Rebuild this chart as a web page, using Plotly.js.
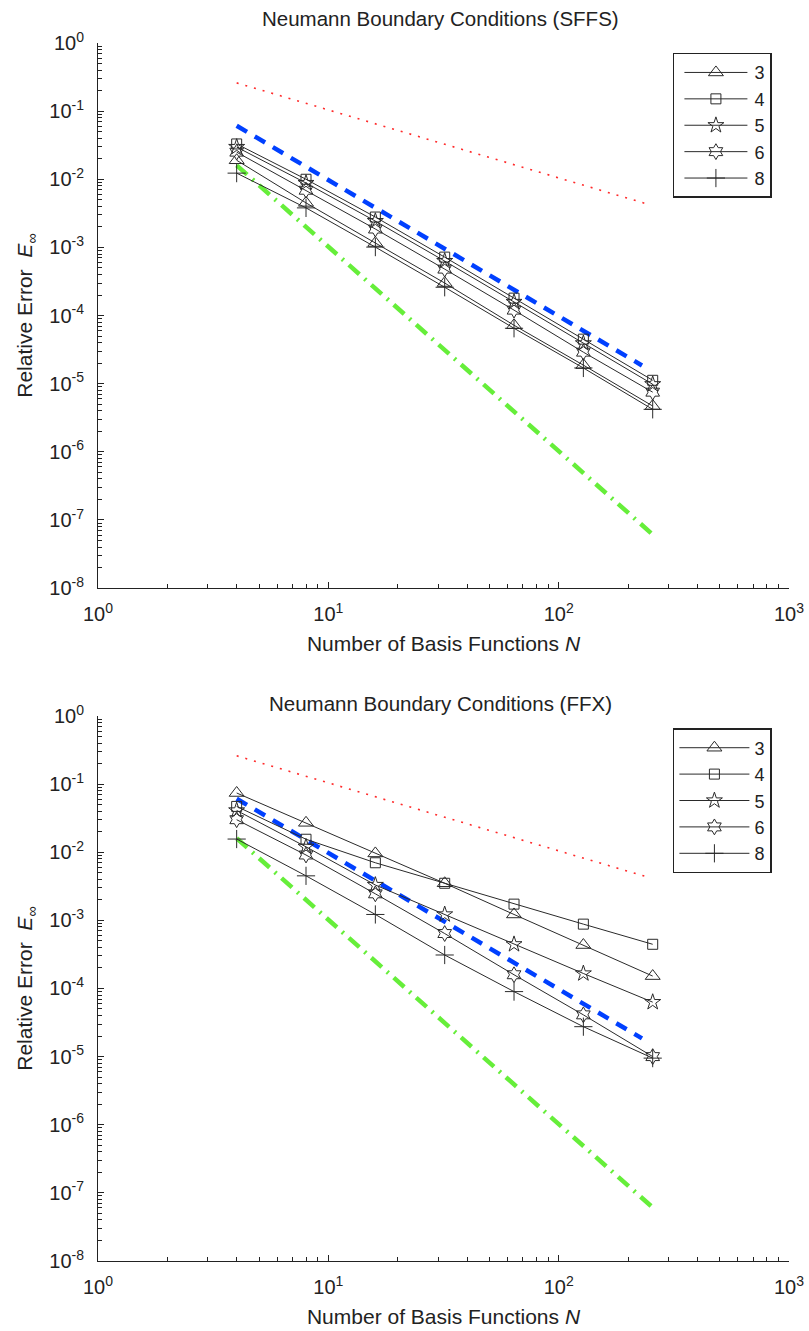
<!DOCTYPE html>
<html>
<head>
<meta charset="utf-8">
<script src="https://cdn.plot.ly/plotly-3.0.1.min.js"></script>
<style>html,body{margin:0;padding:0;background:#fff;}#chart{width:809px;height:1331px;}</style>
</head>
<body>
<div id="chart"></div>
<script>
// ---- data ----
const N = [4, 8, 16, 32, 64, 128, 256];
const seriesNames = ['3', '4', '5', '6', '8'];

// SFFS (top panel)
const sffs_3 = [0.019, 0.0045, 0.00116, 3.0e-4, 7.2e-5, 1.87e-5, 4.7e-6];
const sffs_4 = [0.033, 0.0100, 0.00279, 7.2e-4, 1.8e-4, 4.5e-5, 1.12e-5];
const sffs_5 = [0.0297, 0.0088, 0.00243, 6.3e-4, 1.58e-4, 3.9e-5, 9.8e-6];
const sffs_6 = [0.025, 0.0069, 0.00186, 4.8e-4, 1.2e-4, 2.9e-5, 7.5e-6];
const sffs_8 = [0.0123, 0.0038, 0.00101, 2.6e-4, 6.5e-5, 1.7e-5, 4.2e-6];

// FFX (bottom panel)
const ffx_3 = [0.074, 0.027, 0.0096, 0.0035, 1.22e-3, 4.34e-4, 1.52e-4];
const ffx_4 = [0.047, 0.0155, 0.0070, 0.0035, 1.73e-3, 8.8e-4, 4.45e-4];
const ffx_5 = [0.041, 0.012, 0.0033, 0.00122, 4.45e-4, 1.66e-4, 6.3e-5];
const ffx_6 = [0.030, 0.0091, 0.00245, 6.4e-4, 1.59e-4, 4.1e-5, 1.0e-5];
const ffx_8 = [0.0156, 0.0045, 0.00122, 3.1e-4, 9.0e-5, 2.75e-5, 9.5e-6];

// reference slope lines (endpoints)
const redN = [4, 250];   const redY = [0.26, 0.0042];
const blueN = [4, 230];  const blueY = [0.061, 1.85e-5];
const greenN = [4, 256]; const greenY = [0.016, 6.1e-8];

// tick labels
const xTickVals = [1, 10, 100, 1000];
const xTickText = ['10<sup>0</sup>', '10<sup>1</sup>', '10<sup>2</sup>', '10<sup>3</sup>'];
const yTickVals = [1e-8, 1e-7, 1e-6, 1e-5, 1e-4, 1e-3, 1e-2, 1e-1, 1];
const yTickText = ['10<sup>-8</sup>', '10<sup>-7</sup>', '10<sup>-6</sup>', '10<sup>-5</sup>', '10<sup>-4</sup>',
                   '10<sup>-3</sup>', '10<sup>-2</sup>', '10<sup>-1</sup>', '10<sup>0</sup>'];

// ---- styles ----
const FONT = 'Liberation Sans, Arial, sans-serif';
const symbols = ['triangle-up-open', 'square-open', 'star-open', 'hexagram-open', 'cross-thin-open'];
const sizes = [13, 10, 12, 12, 13];
const lineCol = '#2a2a2a';

function minorVals(lo, hi) {
  const v = [];
  for (let e = lo; e < hi; e++) for (let m = 2; m <= 9; m++) v.push(m * Math.pow(10, e));
  return v;
}

function seriesTraces(sets, xa, ya, legendName) {
  return sets.map((ys, i) => ({
    x: N, y: ys, xaxis: xa, yaxis: ya, name: seriesNames[i], legend: legendName,
    mode: 'lines+markers', type: 'scatter',
    line: {color: lineCol, width: 1},
    marker: {symbol: symbols[i], size: sizes[i], color: lineCol, line: {color: lineCol, width: 1}}
  }));
}
function refTraces(xa, ya) {
  return [
    {x: redN, y: redY, xaxis: xa, yaxis: ya, mode: 'lines', showlegend: false, hoverinfo: 'skip',
     line: {color: '#ff2a2a', width: 1.6, dash: '2px,7px'}},
    {x: blueN, y: blueY, xaxis: xa, yaxis: ya, mode: 'lines', showlegend: false, hoverinfo: 'skip',
     line: {color: '#0040ff', width: 4.5, dash: '12px,9px'}},
    {x: greenN, y: greenY, xaxis: xa, yaxis: ya, mode: 'lines', showlegend: false, hoverinfo: 'skip',
     line: {color: '#66ee3a', width: 4.5, dash: '14px,7px,2px,7px'}}
  ];
}

const data = [].concat(
  refTraces('x', 'y'),
  seriesTraces([sffs_3, sffs_4, sffs_5, sffs_6, sffs_8], 'x', 'y', 'legend'),
  refTraces('x2', 'y2'),
  seriesTraces([ffx_3, ffx_4, ffx_5, ffx_6, ffx_8], 'x2', 'y2', 'legend2')
);

function xAxis(domainAnchor) {
  return {
    type: 'log', range: [0, 3], anchor: domainAnchor,
    showline: true, linecolor: '#222', linewidth: 1, mirror: false,
    showgrid: false, zeroline: false,
    ticks: 'inside', ticklen: 6, tickcolor: '#222', tickwidth: 1,
    tickmode: 'array', tickvals: xTickVals, ticktext: xTickText,
    ticklabelstandoff: 8,
    tickfont: {family: FONT, size: 20, color: '#222'},
    minor: {ticks: 'inside', ticklen: 4, tickcolor: '#222', tickwidth: 1, tickmode: 'array', tickvals: minorVals(0, 3), showgrid: false},
    title: {text: 'Number of Basis Functions <i>N</i>', font: {family: FONT, size: 21, color: '#222'}, standoff: 12}
  };
}
function yAxis(domain, anchor) {
  return {
    type: 'log', range: [-8, 0], domain: domain, anchor: anchor,
    showline: true, linecolor: '#222', linewidth: 1, mirror: false,
    showgrid: false, zeroline: false,
    ticks: 'inside', ticklen: 6, tickcolor: '#222', tickwidth: 1,
    tickmode: 'array', tickvals: yTickVals, ticktext: yTickText,
    ticklabelstandoff: 9,
    tickfont: {family: FONT, size: 20, color: '#222'},
    minor: {ticks: 'inside', ticklen: 4, tickcolor: '#222', tickwidth: 1, tickmode: 'array', tickvals: minorVals(-8, 0), showgrid: false},
    title: {text: 'Relative Error  <i>E</i><sub>∞</sub>', font: {family: FONT, size: 21, color: '#222'}, standoff: 10}
  };
}

const legendStyle = {
  bgcolor: '#fff', bordercolor: '#222', borderwidth: 1.5,
  font: {family: FONT, size: 18, color: '#222'},
  xanchor: 'left', yanchor: 'top', tracegroupgap: 0, itemwidth: 70
};

const layout = {
  width: 809, height: 1331,
  margin: {l: 98, r: 20, t: 43, b: 70},
  paper_bgcolor: '#fff', plot_bgcolor: '#fff',
  font: {family: FONT, color: '#222'},
  xaxis: xAxis('y'),
  yaxis: yAxis([0.5525, 1], 'x'),
  xaxis2: xAxis('y2'),
  yaxis2: yAxis([0, 0.4475], 'x2'),
  legend: Object.assign({x: 0.832, y: 0.992}, legendStyle),
  legend2: Object.assign({x: 0.832, y: 0.4376}, legendStyle),
  annotations: [
    {text: 'Neumann Boundary Conditions (SFFS)', xref: 'paper', yref: 'paper', x: 0.495, y: 1.0205,
     showarrow: false, yanchor: 'middle', font: {family: FONT, size: 20.5, color: '#222'}},
    {text: 'Neumann Boundary Conditions (FFX)', xref: 'paper', yref: 'paper', x: 0.495, y: 0.458,
     showarrow: false, yanchor: 'middle', font: {family: FONT, size: 20.5, color: '#222'}}
  ]
};

Plotly.newPlot('chart', data, layout, {displayModeBar: false, staticPlot: true}).then(function (gd) {
  // lengthen the legend line samples to match the original legend style
  gd.querySelectorAll('.legend .traces').forEach(function (tr) {
    tr.querySelectorAll('.legendlines path').forEach(function (p) { p.setAttribute('d', 'M10,0h63'); });
    tr.querySelectorAll('.legendsymbols path').forEach(function (p) { p.setAttribute('transform', 'translate(41.5,0)'); });
  });
});
</script>
</body>
</html>
